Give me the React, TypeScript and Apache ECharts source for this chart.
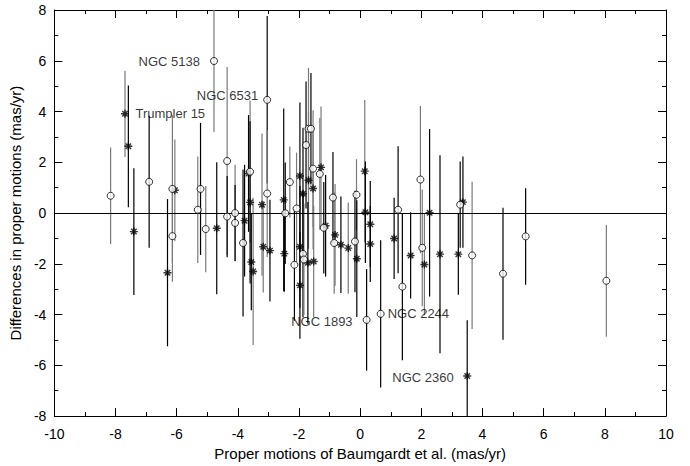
import React, { useEffect, useRef } from "react";
import * as echarts from "echarts";

// Open circles
const circleX = [-8.16, -6.9, -6.14, -6.14, -5.22, -5.31, -5.05, -4.78, -4.35, -4.35, -4.09, -4.09, -3.83, -3.6, -3.04, -3.04, -2.45, -2.3, -2.08, -2.15, -1.77, -1.69, -1.61, -1.54, -1.32, -1.19, -0.89, -0.85, -1.87, -1.84, -0.12, -0.17, 0.21, 0.67, 1.24, 1.38, 1.97, 2.03, 3.27, 3.66, 4.67, 5.41, 8.05];
const circleY = [0.68, 1.23, 0.95, -0.91, 0.95, 0.13, -0.63, 5.99, 2.05, -0.14, 0.0, -0.39, -1.18, 1.63, 4.46, 0.77, -0.01, 1.22, 0.18, -2.04, 2.68, 3.32, 3.32, 1.75, 1.54, -0.58, 0.61, -1.18, -1.61, -1.83, 0.72, -1.12, -4.21, -3.97, 0.13, -2.9, 1.32, -1.37, 0.33, -1.67, -2.39, -0.92, -2.67];
const circleErr = [1.9, 2.6, 2.9, 1.8, 2.6, 2.1, 1.7, 2.8, 3.7, 1.6, 1.9, 1.5, 2.9, 2.8, 3.3, 2.5, 2.0, 1.4, 2.2, 2.2, 2.5, 2.4, 2.2, 2.3, 2.2, 1.8, 1.8, 2.0, 2.5, 2.2, 1.4, 2.0, 2.0, 2.9, 2.5, 2.9, 2.9, 2.3, 1.7, 2.9, 2.6, 1.9, 2.2];
const circleGray = [1, 0, 1, 1, 0, 1, 1, 1, 1, 0, 1, 0, 0, 1, 0, 1, 0, 1, 1, 0, 0, 1, 0, 1, 1, 0, 0, 1, 0, 1, 1, 0, 0, 0, 0, 0, 1, 1, 0, 1, 0, 0, 1];

// Asterisks
const starX = [-7.69, -7.58, -7.4, -6.3, -6.06, -4.69, -3.78, -3.6, -3.65, -3.56, -3.5, -3.21, -3.17, -2.95, -2.5, -2.48, -1.97, -1.69, -1.87, -1.54, -1.28, -1.13, -0.82, -1.97, -1.97, -1.71, -1.52, -0.63, -0.39, -0.11, 0.15, 0.17, 0.33, 0.33, 1.11, 1.65, 2.1, 2.27, 2.61, 3.21, 3.36, 3.5];
const starY = [3.91, 2.63, -0.73, -2.35, 0.9, -0.6, -0.3, 0.42, 1.56, -1.93, -2.3, 0.33, -1.33, -1.48, 0.52, -1.6, 1.46, 1.29, 0.76, 0.97, 1.8, -0.5, -0.86, -1.33, -2.85, -1.96, -1.91, -1.25, -1.38, -1.8, 1.65, 0.03, -0.44, -1.22, -1.0, -1.67, -2.03, 0.01, -1.62, -1.62, 0.43, -6.42];
const starErr = [1.7, 2.4, 2.5, 2.9, 2.0, 2.6, 2.2, 3.2, 2.3, 1.9, 2.9, 2.8, 1.8, 2.0, 3.6, 1.5, 2.9, 2.7, 2.6, 2.4, 2.4, 2.0, 2.0, 2.4, 2.1, 2.4, 2.2, 1.9, 1.8, 2.3, 2.8, 2.0, 1.7, 1.5, 1.6, 1.7, 2.0, 3.3, 3.9, 1.6, 1.8, 2.2];
const starGray = [1, 0, 0, 0, 1, 0, 0, 0, 0, 0, 1, 1, 1, 0, 0, 0, 0, 1, 0, 1, 1, 0, 1, 0, 0, 0, 1, 0, 1, 0, 1, 0, 0, 0, 0, 0, 1, 0, 0, 0, 0, 0];

// Annotated clusters
const circleNotes: Record<number, string> = { 7: "NGC 5138", 14: "NGC 6531", 32: "NGC 1893", 33: "NGC 2244" };
const starNotes: Record<number, string> = { 0: "Trumpler 15", 41: "NGC 2360" };

const xTitle = "Proper motions of Baumgardt et al. (mas/yr)";
const yTitle = "Differences in proper motions (mas/yr)";

const FONT = "'Liberation Sans', Arial, sans-serif";

const notePlacement: Record<string, { position: string; distance: number; offset?: number[] }> = {
  "NGC 5138": { position: "left", distance: 10 },
  "NGC 6531": { position: "left", distance: 5, offset: [0, -4] },
  "NGC 1893": { position: "left", distance: 10, offset: [0, 2] },
  "NGC 2244": { position: "right", distance: 3 },
  "Trumpler 15": { position: "right", distance: 4 },
  "NGC 2360": { position: "left", distance: 7, offset: [0, 2] },
};

function makePoints(xs: number[], ys: number[], notes: Record<number, string>) {
  return xs.map((x, i) => {
    const note = notes[i];
    if (!note) return [x, ys[i]];
    const p = notePlacement[note];
    return {
      value: [x, ys[i]],
      label: {
        show: true,
        formatter: note,
        position: p.position,
        distance: p.distance,
        offset: p.offset || [0, 0],
        fontSize: 13,
        color: "#000",
        fontFamily: FONT,
      },
    };
  });
}

function makeBars(xs: number[], ys: number[], errs: number[], gray: number[]) {
  return xs.map((x, i) => [x, ys[i] - errs[i], ys[i] + errs[i], gray[i]]);
}

const ASTERISK = "path://M5 0 L5 10 M0 5 L10 5 M1.6 1.6 L8.4 8.4 M1.6 8.4 L8.4 1.6";

export default function App() {
  const ref = useRef<HTMLDivElement>(null);
  useEffect(() => {
    if (!ref.current) return;
    const chart = echarts.init(ref.current, undefined, { renderer: "svg" });
    const axisCommon = {
      type: "value" as const,
      interval: 2,
      axisLine: { show: true, onZero: false, lineStyle: { color: "#000", width: 1 } },
      axisTick: { show: true, inside: true, length: 8, lineStyle: { color: "#000" } },
      minorTick: { show: true, splitNumber: 2, length: 4, lineStyle: { color: "#000" } },
      splitLine: { show: false },
      minorSplitLine: { show: false },
    };
    const renderBar = (params: any, api: any) => {
      const x = api.value(0);
      const lo = Math.max(api.value(1), -8);
      const hi = Math.min(api.value(2), 8);
      const p1 = api.coord([x, lo]);
      const p2 = api.coord([x, hi]);
      return {
        type: "line",
        shape: { x1: p1[0], y1: p1[1], x2: p2[0], y2: p2[1] },
        style: { stroke: api.value(3) ? "#7a7a7a" : "#000", lineWidth: 1.2 },
      };
    };
    chart.setOption({
      animation: false,
      backgroundColor: "#fff",
      textStyle: { fontFamily: FONT },
      grid: { left: 52, right: 24, top: 10, bottom: 48 },
      xAxis: [
        {
          ...axisCommon,
          min: -10,
          max: 10,
          position: "bottom",
          axisLabel: { fontSize: 14, color: "#000", margin: 11, fontFamily: FONT },
          name: xTitle,
          nameLocation: "middle",
          nameGap: 27,
          nameTextStyle: { fontSize: 15, color: "#000", fontFamily: FONT },
        },
        {
          ...axisCommon,
          min: -10,
          max: 10,
          position: "top",
          axisLabel: { show: false },
        },
      ],
      yAxis: [
        {
          ...axisCommon,
          min: -8,
          max: 8,
          position: "left",
          axisLabel: { fontSize: 14, color: "#000", margin: 8, fontFamily: FONT },
          name: yTitle,
          nameLocation: "middle",
          nameGap: 26,
          nameRotate: 90,
          nameTextStyle: { fontSize: 15, color: "#000", fontFamily: FONT },
        },
        {
          ...axisCommon,
          min: -8,
          max: 8,
          position: "right",
          axisLabel: { show: false },
        },
      ],
      series: [
        {
          type: "custom",
          name: "bars-o",
          renderItem: renderBar,
          encode: { x: 0, y: [1, 2] },
          data: makeBars(circleX, circleY, circleErr, circleGray),
          z: 1,
          silent: true,
        },
        {
          type: "custom",
          name: "bars-s",
          renderItem: renderBar,
          encode: { x: 0, y: [1, 2] },
          data: makeBars(starX, starY, starErr, starGray),
          z: 1,
          silent: true,
        },
        {
          type: "scatter",
          name: "stars",
          symbol: ASTERISK,
          symbolSize: 8,
          itemStyle: { color: "none", borderColor: "#000", borderWidth: 1.4 },
          data: makePoints(starX, starY, starNotes),
          z: 3,
        },
        {
          type: "scatter",
          name: "circles",
          symbol: "circle",
          symbolSize: 7,
          itemStyle: { color: "#fff", borderColor: "#000", borderWidth: 1 },
          data: makePoints(circleX, circleY, circleNotes),
          z: 4,
          markLine: {
            silent: true,
            symbol: "none",
            label: { show: false },
            lineStyle: { color: "#000", width: 1.2, type: "solid" },
            data: [{ yAxis: 0 }],
            z: 2,
          },
        },
      ],
    });
    return () => chart.dispose();
  }, []);
  return (
    <div
      ref={ref}
      style={{ position: "fixed", left: 0, top: 0, width: 690, height: 466, background: "#fff" }}
    />
  );
}
